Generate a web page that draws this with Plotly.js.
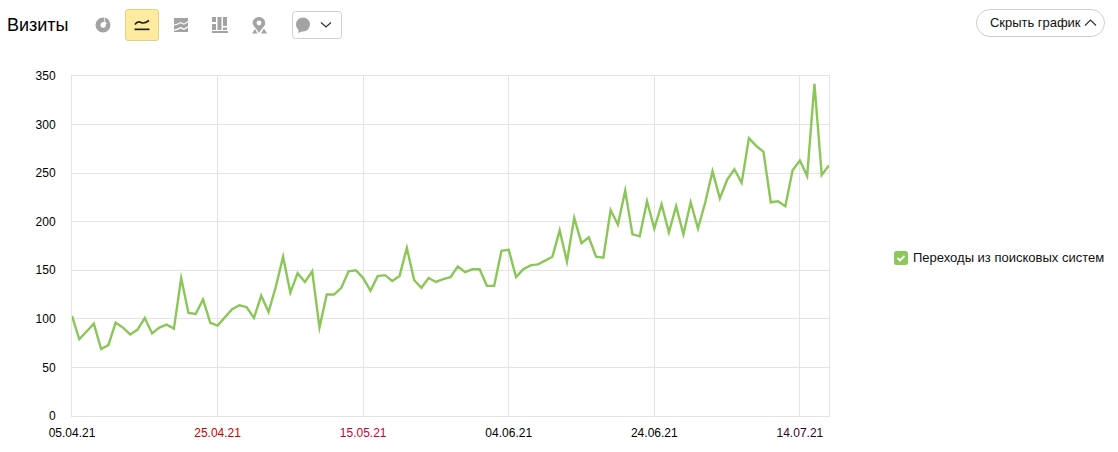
<!DOCTYPE html>
<html><head><meta charset="utf-8">
<script src="https://cdn.plot.ly/plotly-3.0.1.min.js"></script>
<style>
html,body{margin:0;padding:0;background:#fff;width:1118px;height:452px;overflow:hidden;font-family:"Liberation Sans",Arial,sans-serif}
#chart{position:absolute;left:0;top:0;width:1118px;height:452px}
.o{position:absolute}
#chart .scatterlayer .js-line{stroke-linejoin:miter !important;stroke-miterlimit:6}
</style></head><body>
<div id="chart"></div>
<div class="o" style="left:7px;top:15px;font-size:18px;line-height:21px;color:#000">Визиты</div>
<svg class="o" style="left:0;top:0" width="360" height="50" viewBox="0 0 360 50">
  <path d="M95.500 25a7.500 7.500 0 1 0 15 0a7.500 7.500 0 1 0 -15 0zM100.500 25a2.700 2.700 0 1 0 5.400 0a2.700 2.700 0 1 0 -5.400 0z" fill="#a3a3a3" fill-rule="evenodd"/>
  <path d="M103 25l2 -9 6 6z" fill="#fff"/>
  <path d="M105.500 17.500a7.500 7.500 0 0 1 4.500 5.500l-3.500 .5a3 3 0 0 0 -2 -2z" fill="#a3a3a3"/>
  <rect x="125.500" y="9.500" width="33" height="31" rx="2.500" fill="#ffeba0" stroke="#e3cf86"/>
  <path d="M135 24.500c2 -3 4 -3 6 -2s4 1 8 -2" fill="none" stroke="#222" stroke-width="1.700"/>
  <rect x="134.500" y="28.500" width="15" height="1.700" fill="#222"/>
  <g fill="#a3a3a3">
    <path d="M174 18h14v3l-4 2.500-3.500 -1.500-3 1.500-3.500 1z"/>
    <path d="M174 25.500l3.500 -.8 3 -1.500 3.500 1.500 4 -2.500v3.800l-4 2.500-3.500 -1.500-3 1.500-3.500 1z"/>
    <path d="M174 30.700l3.500 -.8 3 -1.500 3.500 1.500 4 -2.500v4.600h-14z"/>
  </g>
  <g fill="#a3a3a3">
    <rect x="212" y="17" width="4" height="5"/><rect x="212" y="24" width="4" height="6"/>
    <rect x="217.500" y="17" width="4" height="13"/>
    <rect x="223" y="17" width="4" height="9"/><rect x="223" y="27.500" width="4" height="2.500"/>
    <rect x="212" y="31" width="16" height="2"/>
  </g>
  <path d="M259 17a6.200 6.200 0 0 1 6.200 6.200c0 2.500 -3.200 5 -6.200 9.800l-1.500 -2.500c-1.500 -2.500 -4.900 -5 -4.900 -7.300a6.200 6.200 0 0 1 6.400 -6.200z" fill="#a3a3a3"/>
  <circle cx="259" cy="23" r="2.400" fill="#fff"/>
  <path d="M252 33.500l3 -4.500 2.500 4.500zM261 33.500l3 -5 3 5z" fill="#a3a3a3"/>
  <rect x="292.500" y="11.500" width="49" height="27" rx="3" fill="#fff" stroke="#cfcfcf"/>
  <circle cx="303" cy="24.500" r="7" fill="#a3a3a3"/><path d="M299 29l-1 4 5 -2z" fill="#a3a3a3"/>
  <path d="M321 22.500l5 4.500 5 -4.500" fill="none" stroke="#333" stroke-width="1.200"/>
</svg>
<div class="o" style="left:976px;top:9px;width:127px;height:26px;border:1px solid #cfcfcf;border-radius:14px;background:#fff"></div>
<div class="o" style="left:990px;top:14px;font-size:13px;line-height:18px;color:#111;white-space:nowrap;letter-spacing:-0.03px">Скрыть график</div>
<svg class="o" style="left:1084px;top:18px" width="14" height="10"><path d="M1 7.500l5.500 -5.500 5.500 5.500" fill="none" stroke="#333" stroke-width="1.200"/></svg>
<svg class="o" style="left:894px;top:251px" width="14" height="14"><rect width="14" height="14" rx="2.500" fill="#8cc85a"/><path d="M3.500 7l2.500 2.500 4.500 -4.500" fill="none" stroke="#fff" stroke-width="1.800"/></svg>
<div class="o" style="left:913px;top:250px;font-size:13px;line-height:16px;color:#111;white-space:nowrap">Переходы из поисковых систем</div>
<script>
const seriesName = "Переходы из поисковых систем";
const dates = [
"2021-04-05","2021-04-06","2021-04-07","2021-04-08","2021-04-09","2021-04-10","2021-04-11","2021-04-12","2021-04-13","2021-04-14",
"2021-04-15","2021-04-16","2021-04-17","2021-04-18","2021-04-19","2021-04-20","2021-04-21","2021-04-22","2021-04-23","2021-04-24",
"2021-04-25","2021-04-26","2021-04-27","2021-04-28","2021-04-29","2021-04-30","2021-05-01","2021-05-02","2021-05-03","2021-05-04",
"2021-05-05","2021-05-06","2021-05-07","2021-05-08","2021-05-09","2021-05-10","2021-05-11","2021-05-12","2021-05-13","2021-05-14",
"2021-05-15","2021-05-16","2021-05-17","2021-05-18","2021-05-19","2021-05-20","2021-05-21","2021-05-22","2021-05-23","2021-05-24",
"2021-05-25","2021-05-26","2021-05-27","2021-05-28","2021-05-29","2021-05-30","2021-05-31","2021-06-01","2021-06-02","2021-06-03",
"2021-06-04","2021-06-05","2021-06-06","2021-06-07","2021-06-08","2021-06-09","2021-06-10","2021-06-11","2021-06-12","2021-06-13",
"2021-06-14","2021-06-15","2021-06-16","2021-06-17","2021-06-18","2021-06-19","2021-06-20","2021-06-21","2021-06-22","2021-06-23",
"2021-06-24","2021-06-25","2021-06-26","2021-06-27","2021-06-28","2021-06-29","2021-06-30","2021-07-01","2021-07-02","2021-07-03",
"2021-07-04","2021-07-05","2021-07-06","2021-07-07","2021-07-08","2021-07-09","2021-07-10","2021-07-11","2021-07-12","2021-07-13",
"2021-07-14","2021-07-15","2021-07-16","2021-07-17","2021-07-18"];
const visits = [
103,79,87,95,69,73,96,91,84,89,
101,85,91,94,90,142,106,105,120,96,
93,101,110,114,112,101,124,107,133,164,
127,147,138,149,91,125,125,132,149,150,
142,129,144,145,139,144,173,140,132,142,
138,141,143,154,148,151,151,134,134,170,
171,143,151,155,156,160,164,191,159,204,
178,184,164,163,212,197,232,187,185,221,
193,218,189,216,187,220,193,220,252,224,
243,254,240,286,278,272,220,221,216,253,
263,247,342,248,258];
const xTickVals = ["2021-04-05","2021-04-25","2021-05-15","2021-06-04","2021-06-24","2021-07-14"];
const xTickText = ["05.04.21","25.04.21","15.05.21","04.06.21","24.06.21","14.07.21"];
const xTickColors = ["#000000","#cc0000","#cc0033","#000000","#000000","#330033"];
const yTickVals = [0,50,100,150,200,250,300,350];

const grid = "#e4e4e4";
Plotly.newPlot("chart",[{
  type:"scatter",mode:"lines",name:seriesName,x:dates,y:visits,
  line:{color:"#8bc658",width:2.4,shape:"linear"},hoverinfo:"x+y"
}],{
  width:1118,height:452,showlegend:false,
  margin:{l:72.4,r:288.6,t:76.2,b:35.8,pad:0},
  paper_bgcolor:"#fff",plot_bgcolor:"#fff",
  font:{family:'"Liberation Sans",Arial,sans-serif',size:12,color:"#000"},
  xaxis:{type:"date",range:["2021-04-05","2021-07-18"],tickmode:"array",tickvals:xTickVals,
    ticktext:xTickText.map((t,i)=>`<span style="color:${xTickColors[i]}">${t}</span>`),
    showgrid:true,gridcolor:grid,gridwidth:1,showline:true,linecolor:grid,linewidth:1,mirror:true,
    ticks:"",zeroline:false,tickangle:0,ticklabelstandoff:6},
  yaxis:{range:[0,350],tickmode:"array",tickvals:yTickVals,
    showgrid:true,gridcolor:grid,gridwidth:1,showline:true,linecolor:grid,linewidth:1,mirror:true,
    ticks:"",zeroline:false,ticklabelstandoff:13}
},{displayModeBar:false,staticPlot:true});
</script>
</body></html>
